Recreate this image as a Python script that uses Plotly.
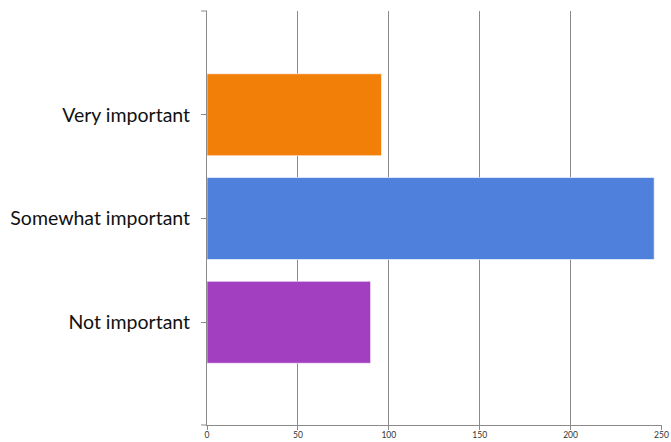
import plotly.graph_objects as go

categories = ["Not important", "Somewhat important", "Very important"]
values = [90, 246, 96]
colors = ["#A23FC0", "#4E80DC", "#F27F08"]
x_ticks = [0, 50, 100, 150, 200, 250]

fig = go.Figure()
fig.add_trace(go.Bar(
    y=categories, x=values, orientation="h",
    marker=dict(color=colors, line=dict(color="rgba(255,255,255,0.6)", width=1)),
    width=0.79,
    showlegend=False,
    hoverinfo="skip",
))

fig.update_layout(
    width=671, height=442,
    margin=dict(l=207, r=9, t=11, b=17, autoexpand=False),
    paper_bgcolor="white", plot_bgcolor="white",
    font=dict(family="Lato, Liberation Sans, sans-serif", color="#111"),
    xaxis=dict(
        range=[0, 250.3], tickvals=x_ticks, ticktext=[str(v) for v in x_ticks],
        showgrid=True, gridcolor="#8a8a8a", gridwidth=1,
        showline=True, linecolor="#8a8a8a", linewidth=1,
        ticks="outside", ticklen=4, tickcolor="#8a8a8a",
        tickfont=dict(size=8.5, color="#333"), zeroline=False, fixedrange=True,
        automargin=False, ticklabelstandoff=-2,
    ),
    yaxis=dict(
        range=[-0.99, 3.0], showgrid=False,
        showline=True, linecolor="#8a8a8a", linewidth=1,
        ticks="outside", ticklen=5, tickcolor="#8a8a8a",
        tickfont=dict(size=19.5, color="#111"), zeroline=False,
        automargin=False, ticklabelstandoff=7, fixedrange=True,
    ),
    shapes=[
        dict(type="line", xref="paper", yref="paper", x0=-0.013, x1=0, y0=1, y1=1,
             line=dict(color="#8a8a8a", width=1)),
        dict(type="line", xref="paper", yref="paper", x0=-0.013, x1=0, y0=0, y1=0,
             line=dict(color="#8a8a8a", width=1)),
    ],
)

fig.write_html("out.html", config={"displayModeBar": False},
               post_script="document.body.style.margin='0';document.body.style.overflow='hidden';")
